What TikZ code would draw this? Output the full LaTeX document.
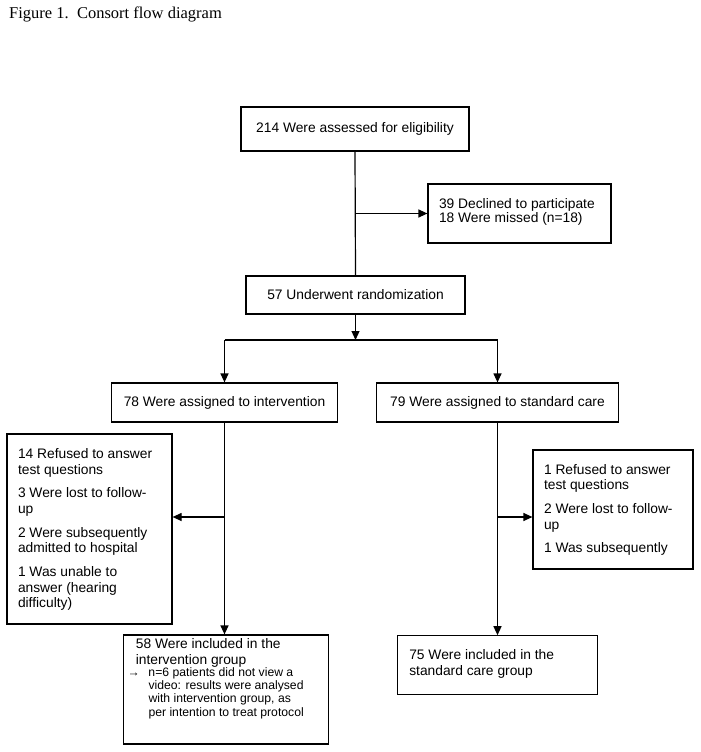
\documentclass[tikz,border=0pt]{standalone}
\usepackage{fontspec}
\setmainfont{Liberation Sans}
\newfontfamily\ttlfont{Liberation Serif}
\usetikzlibrary{arrows.meta}
\newcommand\bxfont{\fontsize{13.8pt}{15.7pt}\selectfont}
\newcommand\notefont{\fontsize{12.2pt}{13.2pt}\selectfont}
\begin{document}
\begin{tikzpicture}[x=1pt,y=-1pt,
  box/.style={draw, line width=1.2pt, rectangle, inner sep=0pt, font=\bxfont},
  ln/.style={line width=1.2pt},
  arr/.style={line width=1.2pt, -{Triangle[length=9pt,width=8pt]}}]
\useasboundingbox (0,0) rectangle (701,752);
\node[anchor=base west, inner sep=0pt, font=\ttlfont\fontsize{16.5pt}{18pt}\selectfont] (title) at (9,18.3) {Figure 1.\ \ Consort flow diagram};

\node[box, minimum width=228pt, minimum height=44pt] (b1) at (355,129) {214 Were assessed for eligibility};
\node[box] (b2) at (519.5,213.5) {\hspace*{11pt}\parbox[c][59pt][t]{172pt}{\raggedright\rule{0pt}{24pt}39 Declined to participate\\[-1.4pt] 18 Were missed (n=18)}};
\node[box, minimum width=219pt, minimum height=38pt] (b3) at (355.5,295) {57 Underwent randomization};
\node[box, minimum width=226pt, minimum height=39pt] (b4) at (224.5,402.5) {78 Were assigned to intervention};
\node[box, minimum width=242pt, minimum height=39pt] (b5) at (497.5,402.5) {79 Were assigned to standard care};
\node[box] (b6) at (89.5,529) {\hspace*{11pt}\parbox[c][190pt][t]{154pt}{\raggedright\rule{0pt}{24.3pt}14 Refused to answer\\ test questions\\[8pt] 3 Were lost to follow-\\ up\\[8pt] 2 Were subsequently\\ admitted to hospital\\[8pt] 1 Was unable to\\ answer (hearing\\ difficulty)}};
\node[box] (b7) at (613,509.5) {\hspace*{11pt}\parbox[c][119pt][t]{149pt}{\raggedright\rule{0pt}{24pt}1 Refused to answer\\ test questions\\[8pt] 2 Were lost to follow-\\ up\\[8pt] 1 Was subsequently}};
\node[box] (b8) at (226,689.5) {\hspace*{12.4pt}\parbox[c][109pt][t]{192.6pt}{\raggedright\rule{0pt}{13.8pt}58 Were included in the\\ intervention group\par\vspace{-1.2pt}{\notefont\leftskip=12.6pt \noindent\hspace*{-21pt}\makebox[21pt][l]{→}n=6 patients did not view a\\ video: results were analysed\\ with intervention group, as\\ per intention to treat protocol\par}}};
\node[box] (b9) at (497.3,665.3) {\hspace*{12pt}\parbox[c][59pt][t]{188pt}{\raggedright\rule{0pt}{23.3pt}75 Were included in the\\[1pt] standard care group}};

\coordinate (ysplit) at (0,340);
\coordinate (yexcl) at (0,517);
\coordinate (j1) at (b1.south |- b2.west);
\coordinate (j2) at (b3.south |- ysplit);
\coordinate (j3) at (b4.south |- yexcl);
\coordinate (j4) at (b5.south |- yexcl);

\draw[ln] (b1.south) -- (b3.north);
\draw[arr] (j1) -- (b2.west);
\draw[arr] (b3.south) -- (j2);
\draw[ln] (b4.north |- j2) -- (b5.north |- j2);
\draw[arr] (b4.north |- j2) -- (b4.north);
\draw[arr] (b5.north |- j2) -- (b5.north);
\draw[arr] (b4.south) -- (b4.south |- b8.north);
\draw[arr] (j3) -- (j3 -| b6.east);
\draw[arr] (b5.south) -- (b5.south |- b9.north);
\draw[arr] (j4) -- (j4 -| b7.west);
\end{tikzpicture}
\end{document}
